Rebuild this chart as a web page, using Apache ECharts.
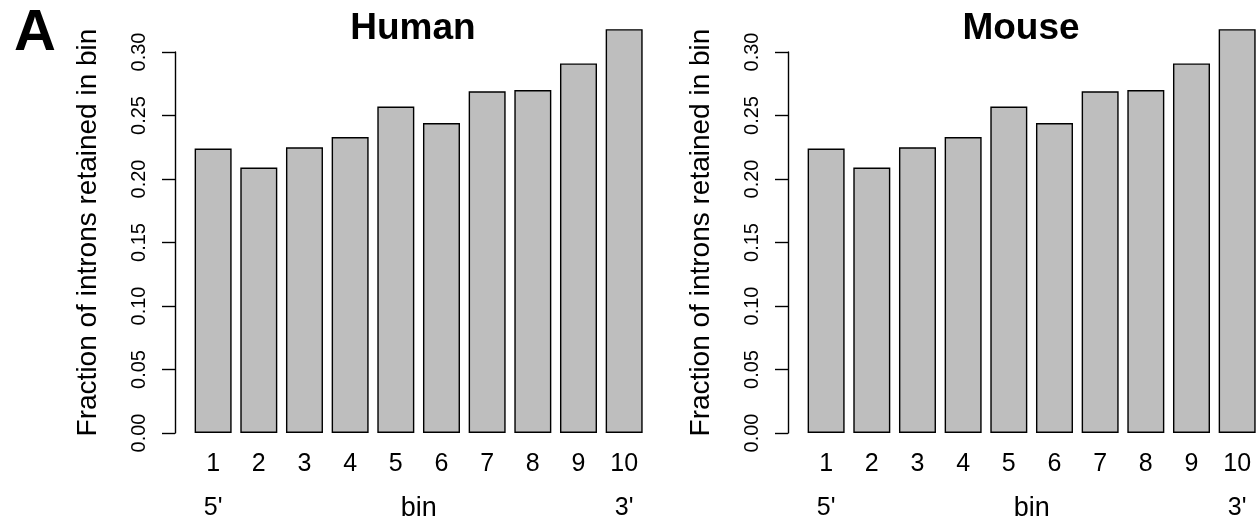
<!DOCTYPE html>
<html>
<head>
<meta charset="utf-8">
<script src="https://cdn.jsdelivr.net/npm/echarts@6/dist/echarts.min.js"></script>
<style>
  html, body { margin: 0; padding: 0; background: #fff; }
  #chart { width: 1260px; height: 523px; }
</style>
</head>
<body>
<div id="chart"></div>
<script>
// ---- data ----
const bins = ['1', '2', '3', '4', '5', '6', '7', '8', '9', '10'];
const endLabels = ["5'", '', '', '', '', '', '', '', '', "3'"];
const humanFrac = [0.224, 0.209, 0.225, 0.233, 0.257, 0.244, 0.269, 0.270, 0.291, 0.318];
const mouseFrac = [0.224, 0.209, 0.225, 0.233, 0.257, 0.244, 0.269, 0.270, 0.291, 0.318];
const yTickLabels = ['0.00', '0.05', '0.10', '0.15', '0.20', '0.25', '0.30'];
const panelTitles = ['Human', 'Mouse'];
const yTitle = 'Fraction of introns retained in bin';
const xTitle = 'bin';
const panelLetter = 'A';

// ---- layout ----
const FONT = '"Liberation Sans", Arial, Helvetica, sans-serif';
const panels = [
  { title: panelTitles[0], data: humanFrac, dx: 0, titleX: 413 },
  { title: panelTitles[1], data: mouseFrac, dx: 613, titleX: 1021 }
];
const gridLeft = 190.3, gridWidth = 456.7, gridTop = 52, gridHeight = 381;

const grid = [], xAxis = [], yAxis = [], series = [], graphic = [];

panels.forEach((p, i) => {
  grid.push({
    left: gridLeft + p.dx, top: gridTop, width: gridWidth, height: gridHeight,
    containLabel: false, outerBoundsMode: 'none'
  });
  xAxis.push({
    type: 'category', gridIndex: i, position: 'bottom', data: bins,
    axisLine: { show: false }, axisTick: { show: false },
    axisLabel: { color: '#000', fontSize: 25, fontFamily: FONT, margin: 19, interval: 0 },
    name: xTitle, nameLocation: 'middle', nameGap: 62,
    nameTextStyle: { color: '#000', fontSize: 27, fontFamily: FONT },
    splitLine: { show: false }
  });
  xAxis.push({
    type: 'category', gridIndex: i, position: 'bottom', data: bins,
    axisLine: { show: false }, axisTick: { show: false },
    axisLabel: {
      color: '#000', fontSize: 25, fontFamily: FONT, margin: 63, interval: 0,
      formatter: (v, idx) => endLabels[idx]
    },
    splitLine: { show: false }
  });
  yAxis.push({
    type: 'value', gridIndex: i, min: 0, max: 0.3, interval: 0.05,
    offset: 15.3,
    axisLine: { show: true, lineStyle: { color: '#000', width: 1.4 } },
    axisTick: { show: true, length: 13, lineStyle: { color: '#000', width: 1.4 } },
    axisLabel: {
      color: '#000', fontSize: 20, fontFamily: FONT, rotate: 90, margin: 26,
      formatter: (v) => yTickLabels[Math.round(v / 0.05)]
    },
    splitLine: { show: false }
  });
  series.push({
    type: 'bar', xAxisIndex: 2 * i, yAxisIndex: i, data: p.data,
    barWidth: 37, clip: false, silent: true,
    itemStyle: { color: '#bebebe', borderColor: '#000', borderWidth: 1.4 }
  });
  graphic.push({
    type: 'text', x: p.titleX, y: 29,
    style: { text: p.title, fill: '#000', font: 'bold 37px ' + FONT, align: 'center', verticalAlign: 'middle' }
  });
  graphic.push({
    type: 'text', x: 88 + p.dx, y: 232.5, rotation: Math.PI / 2,
    style: { text: yTitle, fill: '#000', font: '28px ' + FONT, align: 'center', verticalAlign: 'middle' }
  });
});

graphic.push({
  type: 'text', x: 35, y: 34,
  style: { text: panelLetter, fill: '#000', font: 'bold 58px ' + FONT, align: 'center', verticalAlign: 'middle' }
});

const chart = echarts.init(document.getElementById('chart'), null, { renderer: 'canvas' });
chart.setOption({
  backgroundColor: '#fff',
  animation: false,
  grid, xAxis, yAxis, series, graphic
});
</script>
</body>
</html>
